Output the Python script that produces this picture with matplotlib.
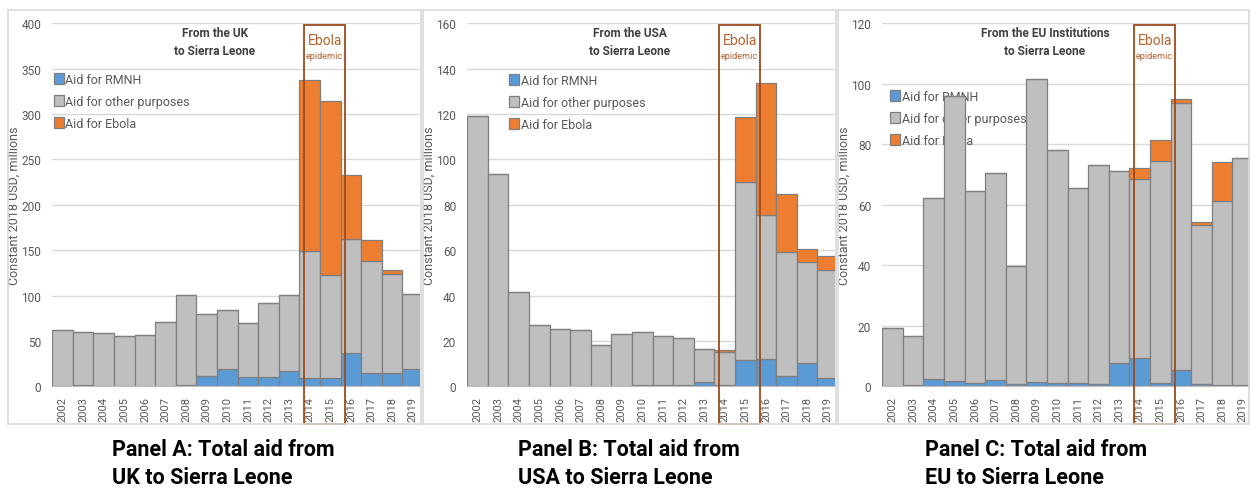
import matplotlib.pyplot as plt
from matplotlib.patches import Rectangle

plt.rcParams['font.family'] = ['Roboto', 'Liberation Sans', 'DejaVu Sans']

years = [str(y) for y in range(2002, 2020)]

# UK
uk_rmnh = [0, 1, 0, 0, 0, 0.5, 1, 11.4, 19, 9.9, 9.9, 16.9, 8.8, 9.2, 36.3, 15, 15, 19.4]
uk_other = [62, 59.2, 58.7, 55.8, 56.9, 70.3, 99.9, 68.2, 65, 59.5, 81.5, 84, 139.8, 113, 126.3, 123.3, 108.3, 82.3]
uk_ebola = [0, 0, 0, 0, 0, 0, 0, 0, 0, 0, 0, 0, 189.4, 192.3, 70.4, 22.4, 4.4, 0]

# USA
us_rmnh = [0, 0, 0, 0, 0, 0, 0, 0, 0.6, 0.4, 0.7, 1.9, 0.6, 11.4, 12.2, 4.6, 10.1, 3.8]
us_other = [119.3, 93.5, 41.4, 27.2, 25.4, 24.7, 18.3, 22.9, 23.5, 21.8, 20.7, 14.5, 14.4, 78.7, 63.4, 54.6, 44.8, 47.6]
us_ebola = [0, 0, 0, 0, 0, 0, 0, 0, 0, 0, 0, 0, 0.9, 28.5, 58.3, 25.6, 5.7, 6.0]

# EU Institutions
eu_rmnh = [0, 0.3, 2.4, 1.7, 1.1, 2.1, 0.8, 1.3, 1.1, 1.1, 0.8, 7.7, 9.4, 1.1, 5.5, 0.8, 0.3, 0.3]
eu_other = [19.3, 16.2, 60.0, 94.3, 63.3, 68.4, 39.1, 100.2, 77.0, 64.4, 72.3, 63.4, 59.0, 73.4, 88.0, 52.4, 60.8, 75.2]
eu_ebola = [0, 0, 0, 0, 0, 0, 0, 0, 0, 0, 0, 0, 3.9, 6.9, 1.6, 1.1, 12.9, 0]

W, H = 1250, 489
BLUE = '#5B9BD5'
GRAY = '#BFBFBF'
ORANGE = '#ED7D31'
EDGE = '#7F7F7F'
BOX = '#9E4A1C'
TXT = '#595959'

fig = plt.figure(figsize=(W / 100, H / 100), dpi=100)


def px_axes(x0, x1, ytop, ybot):
    return fig.add_axes([x0 / W, 1 - ybot / H, (x1 - x0) / W, (ybot - ytop) / H])


def panel(ax, rmnh, other, ebola, ymax, step, title, leg_x, leg_y):
    pos = list(range(len(years)))
    kw = dict(width=1, align='edge', edgecolor=EDGE, linewidth=0.9, zorder=2)
    ax.bar(pos, rmnh, color=BLUE, label='Aid for RMNH', **kw)
    ax.bar(pos, other, bottom=rmnh, color=GRAY, label='Aid for other purposes', **kw)
    bot = [a + b for a, b in zip(rmnh, other)]
    ax.bar(pos, ebola, bottom=bot, color=ORANGE, label='Aid for Ebola', **kw)
    ax.set_xlim(0, 17.85)
    ax.set_ylim(0, ymax)
    ax.set_yticks(range(0, ymax + 1, step))
    ax.set_xticks([p + 0.5 for p in pos])
    ax.set_xticklabels(years, rotation=90, fontsize=8, color=TXT)
    ax.tick_params(axis='y', length=0, labelsize=8.6, labelcolor=TXT, pad=8)
    ax.tick_params(axis='x', length=0, pad=7)
    ax.grid(axis='y', color='#D9D9D9', linewidth=1, zorder=0)
    ax.set_axisbelow(True)
    for s in ['top', 'right', 'left']:
        ax.spines[s].set_visible(False)
    ax.spines['bottom'].set_color('#BFBFBF')
    ax.set_ylabel('Constant 2018 USD, millions', fontsize=9, color=TXT)
    ax.yaxis.set_label_coords(-0.085, 0.5)
    ax.text(0.4425, 0.992, title, transform=ax.transAxes, ha='center', va='top',
            fontsize=8.6, fontweight='bold', color='#404040', linespacing=1.45)
    leg = ax.legend(loc='upper left', bbox_to_anchor=(leg_x, leg_y), frameon=False,
                    fontsize=9, handlelength=0.8, handleheight=1.0, handletextpad=0.15,
                    labelspacing=0.72, borderaxespad=0, labelcolor=TXT)
    leg.set_zorder(1)
    box = Rectangle((12.23, -0.104), 1.98, 1.1, transform=ax.get_xaxis_transform(),
                    fill=False, edgecolor=BOX, linewidth=1.3, clip_on=False, zorder=6)
    ax.add_patch(box)
    ax.text(13.22, 0.955, 'Ebola', transform=ax.get_xaxis_transform(), ha='center',
            va='center', fontsize=10, color='#B8642E', zorder=7)
    ax.text(13.22, 0.912, 'epidemic', transform=ax.get_xaxis_transform(), ha='center',
            va='center', fontsize=6.6, color='#B8642E', zorder=7)


# panel frames
for x0, x1 in [(8, 421), (423, 836), (838, 1249)]:
    fig.patches.append(Rectangle((x0 / W, 1 - 425 / H), (x1 - x0) / W, (425 - 11) / H,
                                 transform=fig.transFigure, fill=False,
                                 edgecolor='#D9D9D9', linewidth=1.2))

ax1 = px_axes(52.3, 420, 24.3, 387.3)
panel(ax1, uk_rmnh, uk_other, uk_ebola, 400, 50, 'From the UK\nto Sierra Leone', -0.01, 0.877)
ax2 = px_axes(467.3, 835, 24.3, 387.3)
panel(ax2, us_rmnh, us_other, us_ebola, 160, 20, 'From the USA\nto Sierra Leone', 0.1, 0.874)
ax3 = px_axes(882.3, 1250, 24.3, 387.3)
panel(ax3, eu_rmnh, eu_other, eu_ebola, 120, 20, 'From the EU Institutions\nto Sierra Leone', 0.008, 0.83)

cap_top = ['Panel A: Total aid from', 'Panel B: Total aid from', 'Panel C: Total aid from']
cap_bottom = ['UK to Sierra Leone', 'USA to Sierra Leone', 'EU to Sierra Leone']
for cx, t1, t2 in zip([112, 518, 925], cap_top, cap_bottom):
    fig.text(cx / W, 1 - 450 / H, t1, ha='left', va='center', fontsize=15.5,
             fontweight='bold', color='black')
    fig.text(cx / W, 1 - 478 / H, t2, ha='left', va='center', fontsize=15.5,
             fontweight='bold', color='black')

fig.savefig('out.png', dpi=100)
